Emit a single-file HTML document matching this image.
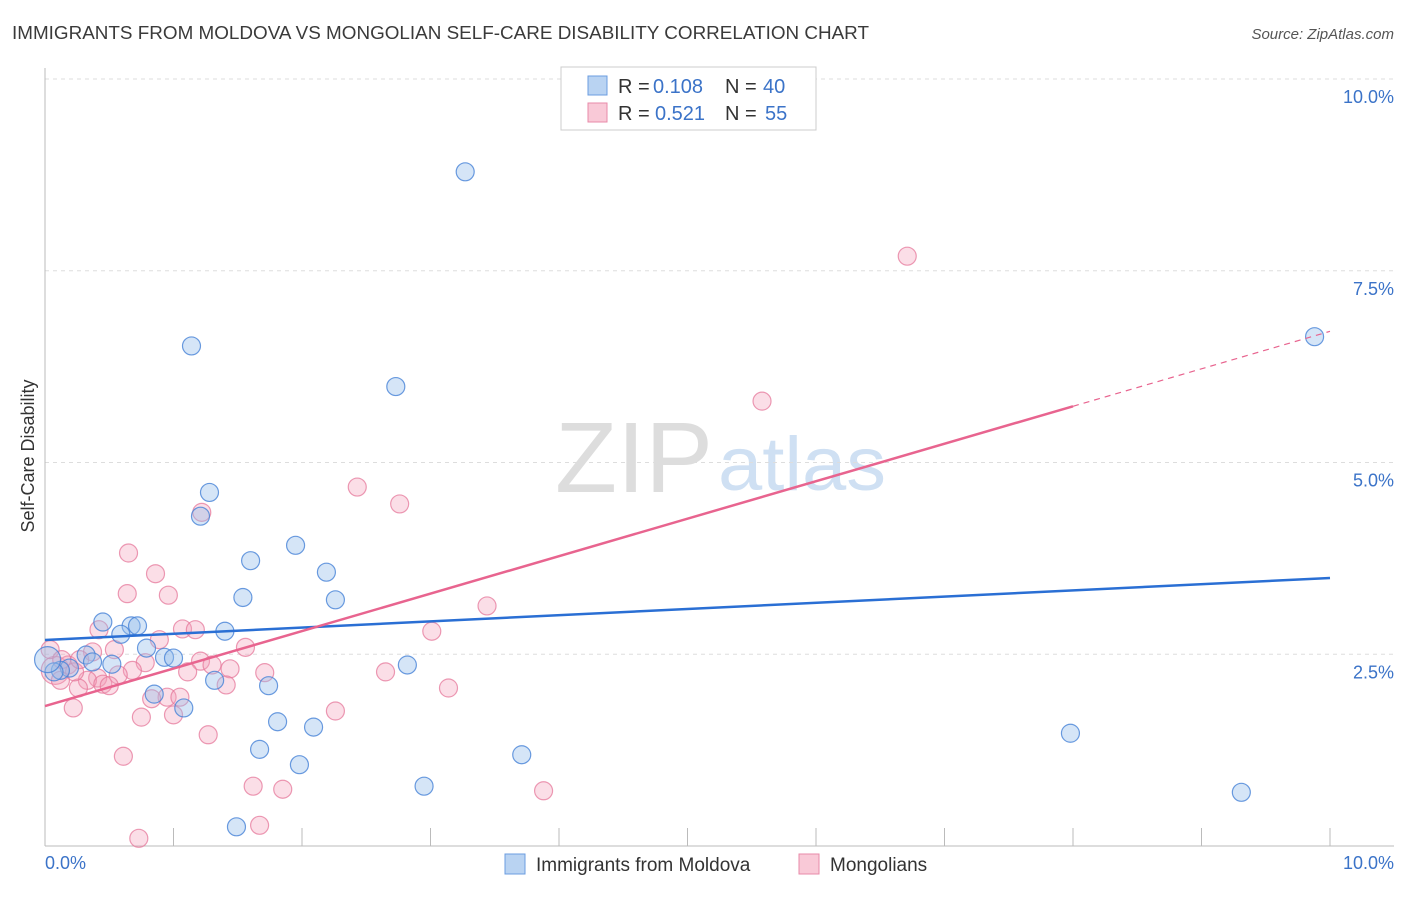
<!DOCTYPE html>
<html><head><meta charset="utf-8"><style>
body{margin:0;background:#fff;font-family:"Liberation Sans",sans-serif;}
svg text{font-family:"Liberation Sans",sans-serif;}
</style></head><body>
<svg id="chart" width="1406" height="892" xmlns="http://www.w3.org/2000/svg">
<text x="12" y="39" font-size="18" fill="#3a3a3a" textLength="857" lengthAdjust="spacingAndGlyphs">IMMIGRANTS FROM MOLDOVA VS MONGOLIAN SELF-CARE DISABILITY CORRELATION CHART</text>
<text x="1394" y="39" font-size="15" fill="#555" font-style="italic" text-anchor="end">Source: ZipAtlas.com</text>
<text x="555" y="492" font-size="100" fill="#ddd" textLength="158" lengthAdjust="spacingAndGlyphs" font-family="Liberation Serif">ZIP</text>
<text x="718" y="490" font-size="76" fill="#cfe0f3" textLength="168" lengthAdjust="spacingAndGlyphs">atlas</text>
<g id="grid"></g>
<g id="axes"></g>
<g id="pts"></g>
<g id="trend"></g>
<text transform="translate(34,456) rotate(-90)" font-size="18" fill="#333" text-anchor="middle">Self-Care Disability</text>
<text x="45" y="869" font-size="18" fill="#3b73c8">0.0%</text>
<text x="1394" y="869" font-size="18" fill="#3b73c8" text-anchor="end">10.0%</text>
<g>
<rect x="561" y="67" width="255" height="63" fill="#fff" stroke="#ccc"/>
<rect x="588" y="76" width="19" height="19" fill="#b9d3f2" stroke="#6b9de0"/>
<rect x="588" y="103" width="19" height="19" fill="#f9c9d7" stroke="#e88aa8"/>
<text y="93" font-size="20" fill="#333"><tspan x="618">R =</tspan><tspan x="653" fill="#3b73c8">0.108</tspan><tspan x="725">N =</tspan><tspan x="763" fill="#3b73c8">40</tspan></text>
<text y="120" font-size="20" fill="#333"><tspan x="618">R =</tspan><tspan x="655" fill="#3b73c8">0.521</tspan><tspan x="725">N =</tspan><tspan x="765" fill="#3b73c8">55</tspan></text>
</g>
<g>
<rect x="505" y="854" width="20" height="20" fill="#b9d3f2" stroke="#6b9de0"/>
<text x="536" y="871" font-size="19" fill="#333">Immigrants from Moldova</text>
<rect x="799" y="854" width="20" height="20" fill="#f9c9d7" stroke="#e88aa8"/>
<text x="830" y="871" font-size="19" fill="#333">Mongolians</text>
</g>
</svg>
<script>
const yTicks=[2.5,5.0,7.5,10.0];
const yTickLabels=["2.5%","5.0%","7.5%","10.0%"];
const xTicks=[0,1,2,3,4,5,6,7,8,9,10];
const blueX=[3.27,1.14,2.73,1.28,1.21,1.95,1.60,2.19,1.54,2.26,0.45,0.67,0.72,0.59,1.40,0.79,0.32,0.93,1.00,0.52,0.37,0.19,0.12,0.07,2.82,0.85,1.32,1.74,1.08,1.81,2.09,1.67,1.98,3.71,2.95,1.49,7.98,9.31,9.88,0.02];
const blueY=[8.79,6.52,5.99,4.61,4.30,3.92,3.72,3.57,3.24,3.21,2.92,2.87,2.87,2.76,2.80,2.58,2.49,2.46,2.45,2.37,2.40,2.32,2.29,2.27,2.36,1.98,2.16,2.09,1.80,1.62,1.55,1.26,1.06,1.19,0.78,0.25,1.47,0.70,6.64,2.43];
const pinkX=[6.71,5.58,2.43,2.76,1.22,0.65,0.86,0.64,0.96,3.44,0.42,1.07,1.17,3.01,0.89,1.56,0.54,0.37,1.21,1.44,1.30,0.78,1.11,0.68,0.57,2.65,1.71,0.41,0.33,0.45,0.26,0.50,3.14,1.41,0.95,0.83,1.05,2.26,0.22,0.75,1.00,0.61,1.27,1.62,1.85,3.88,1.67,0.73,0.08,0.12,0.04,0.18,0.23,0.27,0.13];
const pinkY=[7.69,5.80,4.68,4.46,4.35,3.82,3.55,3.29,3.27,3.13,2.82,2.83,2.82,2.80,2.69,2.59,2.56,2.53,2.41,2.31,2.36,2.39,2.27,2.29,2.23,2.27,2.26,2.19,2.16,2.11,2.06,2.09,2.06,2.10,1.94,1.92,1.94,1.76,1.80,1.68,1.71,1.17,1.45,0.78,0.74,0.72,0.27,0.10,2.29,2.16,2.56,2.36,2.27,2.43,2.43];
const blueTrend=[2.686,3.494];
const pinkTrend=[1.825,6.71];
const pinkSolidEnd=8.0;
const NS="http://www.w3.org/2000/svg";
const X0=45,X1=1330,Y0=846,YT=79;
const sx=v=>X0+(X1-X0)*v/10;
const sy=v=>Y0-(Y0-YT)*v/10;
function mk(tag,attrs,parent){const e=document.createElementNS(NS,tag);for(const k in attrs)e.setAttribute(k,attrs[k]);parent.appendChild(e);return e;}
const grid=document.getElementById('grid'),axes=document.getElementById('axes');
yTicks.forEach((t,i)=>{
 const l=mk('line',{x1:X0,x2:1394,y1:sy(t),y2:sy(t),stroke:'#ddd','stroke-dasharray':'4,4'},grid);
 
 
 const tx=mk('text',{x:1394,y:sy(t)+24,'font-size':18,fill:'#3b73c8','text-anchor':'end'},grid);
 tx.textContent=yTickLabels[i];
 
 
});
const ya=mk('line',{x1:X0,x2:X0,y1:68,y2:Y0,stroke:'#bbb'},axes);


const xa=mk('line',{x1:X0,x2:1394,y1:Y0,y2:Y0,stroke:'#bbb'},axes);


xTicks.forEach(t=>{
 const l=mk('line',{x1:sx(t),x2:sx(t),y1:Y0-18,y2:Y0,stroke:'#bbb'},axes);
 
 
});
const pts=document.getElementById('pts');
pinkX.forEach((x,i)=>{
 const c=mk('circle',{cx:sx(x),cy:sy(pinkY[i]),r:i===48?14:9,fill:'rgba(244,160,185,0.35)',stroke:'rgba(230,120,155,0.75)','stroke-width':1.2},pts);
 
 
});
blueX.forEach((x,i)=>{
 const c=mk('circle',{cx:sx(x),cy:sy(blueY[i]),r:i===39?13:9,fill:'rgba(150,190,235,0.4)',stroke:'rgba(70,130,215,0.8)','stroke-width':1.2},pts);
 
 
});
const tr=document.getElementById('trend');
const bl=mk('line',{x1:sx(0),y1:sy(blueTrend[0]),x2:sx(10),y2:sy(blueTrend[1]),stroke:'#2a6fd4','stroke-width':2.5},tr);


const pAt=v=>pinkTrend[0]+(pinkTrend[1]-pinkTrend[0])*v/10;
const pl=mk('line',{x1:sx(0),y1:sy(pAt(0)),x2:sx(pinkSolidEnd),y2:sy(pAt(pinkSolidEnd)),stroke:'#e8648f','stroke-width':2.5},tr);


const pd=mk('line',{x1:sx(pinkSolidEnd),y1:sy(pAt(pinkSolidEnd)),x2:sx(10),y2:sy(pAt(10)),stroke:'#e8648f','stroke-width':1.2,'stroke-dasharray':'6,5'},tr);


</script>
</body></html>
